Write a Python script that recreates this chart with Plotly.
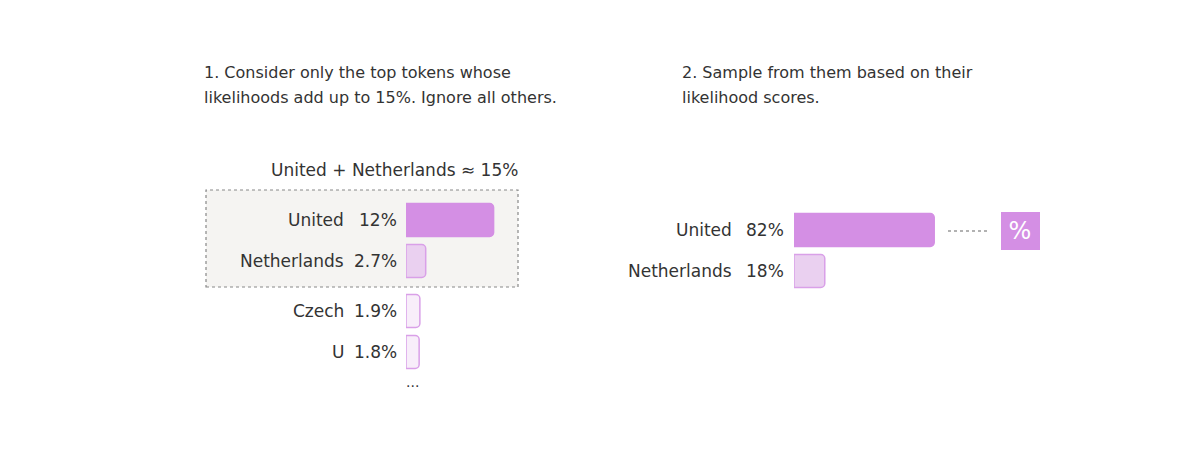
import plotly.graph_objects as go

W, H = 1184, 433
OFF = 8
top_names = ["United", "Netherlands"]
top_vals = [12, 2.7]
rest_names = ["Czech", "U"]
rest_vals = [1.9, 1.8]
samp_names = ["United", "Netherlands"]
samp_vals = [82, 18]

C_FULL = "#d48fe4"
C_MID = "#ead0f0"
C_LIGHT = "#f8eefa"
TXT = "#333333"
FONT = "DejaVu Sans"

def px_(x):
    return (x - OFF) / W

def py(y):
    return 1 - (y - OFF) / H

fig = go.Figure()
fig.add_trace(go.Bar(y=top_names, x=top_vals, orientation="h", width=0.8,
                     marker=dict(color=[C_FULL, C_MID], line=dict(color=[C_FULL, "#d9a0e8"], width=1.5)),
                     xaxis="x", yaxis="y", hoverinfo="skip"))
fig.add_trace(go.Bar(y=rest_names, x=rest_vals, orientation="h", width=0.8,
                     marker=dict(color=C_LIGHT, line=dict(color="#d9a0e8", width=1.5)),
                     xaxis="x", yaxis="y2", hoverinfo="skip"))
fig.add_trace(go.Bar(y=samp_names, x=samp_vals, orientation="h", width=0.8,
                     marker=dict(color=[C_FULL, C_MID], line=dict(color=[C_FULL, "#d9a0e8"], width=1.5)),
                     xaxis="x2", yaxis="y3", hoverinfo="skip"))

ann = []
def row_labels(names, vals, yref, name_right, pct_right, fmt):
    for n, v in zip(names, vals):
        ann.append(dict(x=px_(name_right), xref="paper", y=n, yref=yref, text=n, showarrow=False,
                        xanchor="right", font=dict(size=17, color=TXT, family=FONT)))
        ann.append(dict(x=px_(pct_right), xref="paper", y=n, yref=yref, text=fmt(v) + "%", showarrow=False,
                        xanchor="right", font=dict(size=17, color=TXT, family=FONT)))

fmt = lambda v: ("%g" % v)
row_labels(top_names, top_vals, "y", 346, 399, fmt)
row_labels(rest_names, rest_vals, "y2", 346, 399, fmt)
row_labels(samp_names, samp_vals, "y3", 734, 786, fmt)

def txt(x, y, s, anchor="left", size=16):
    ann.append(dict(x=px_(x), y=py(y), xref="paper", yref="paper", text=s, showarrow=False,
                    xanchor=anchor, yanchor="middle", font=dict(size=size, color=TXT, family=FONT)))

txt(202, 72, "1. Consider only the top tokens whose")
txt(202, 98, "likelihoods add up to 15%. Ignore all others.")
txt(680, 72, "2. Sample from them based on their")
txt(680, 98, "likelihood scores.")
txt(520, 170, "United + Netherlands ≈ 15%", anchor="right", size=17)
txt(412, 382, "...", anchor="center", size=14)
ann.append(dict(x=px_(1020.5), y=py(231), xref="paper", yref="paper", text="%", showarrow=False,
                xanchor="center", yanchor="middle", width=38, align="center",
                font=dict(size=24, color="white", family=FONT)))

shapes = [
    dict(type="rect", xref="paper", yref="paper", x0=px_(206), x1=px_(518), y0=py(287), y1=py(190),
         fillcolor="#f5f4f2", line=dict(color="#888888", width=1.2, dash="dot"), layer="below"),
    dict(type="line", xref="paper", yref="paper", x0=px_(948), x1=px_(987), y0=py(231), y1=py(231),
         line=dict(color="#666666", width=1.2, dash="dot")),
    dict(type="rect", xref="paper", yref="paper", x0=px_(1001), x1=px_(1040), y0=py(250), y1=py(212),
         fillcolor=C_FULL, line=dict(width=0), layer="below"),
]

hid = dict(visible=False, fixedrange=True)
fig.update_layout(
    width=W, height=H, margin=dict(l=0, r=0, t=0, b=0),
    paper_bgcolor="white", plot_bgcolor="rgba(0,0,0,0)", showlegend=False,
    barcornerradius=4, font=dict(family=FONT, color=TXT),
    xaxis=dict(domain=[px_(406), px_(552)], range=[0, 20], **hid),
    xaxis2=dict(domain=[px_(794), px_(965)], range=[0, 100], **hid),
    yaxis=dict(domain=[py(281.5), py(199.5)], autorange="reversed", anchor="x", **hid),
    yaxis2=dict(domain=[py(372.5), py(290.5)], autorange="reversed", anchor="x", **hid),
    yaxis3=dict(domain=[py(291.5), py(209.5)], autorange="reversed", anchor="x2", **hid),
    annotations=ann, shapes=shapes,
)
fig.write_html("out.html")
